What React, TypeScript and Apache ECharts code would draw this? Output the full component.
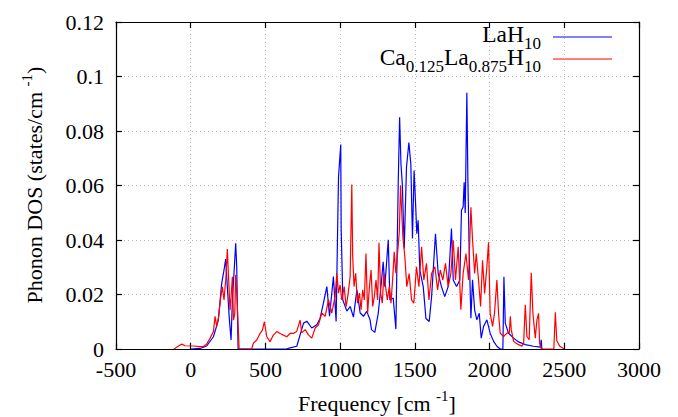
import React, { useEffect, useRef } from "react";
import * as echarts from "echarts";

// LaH10 phonon DOS
const laFreq = [0, 62, 107, 152, 185, 207, 223, 234, 245, 259, 270, 279, 292, 301, 308, 317, 640, 665, 710, 755, 777, 810, 844, 866, 888, 911, 929, 955, 973, 989, 1004, 1007, 1018, 1045, 1067, 1089, 1112, 1134, 1156, 1178, 1200, 1210, 1232, 1255, 1277, 1288, 1299, 1322, 1333, 1355, 1373, 1389, 1398, 1407, 1416, 1429, 1444, 1460, 1473, 1484, 1495, 1504, 1513, 1522, 1533, 1556, 1574, 1596, 1612, 1638, 1656, 1678, 1700, 1723, 1745, 1757, 1779, 1801, 1812, 1823, 1830, 1837, 1848, 1855, 1864, 1875, 1886, 1900, 1915, 1931, 1944, 1960, 1982, 2004, 2027, 2049, 2071, 2089, 2096, 2105, 2127, 2161, 2194, 2239, 2294, 2339, 2346, 2350];
const laDos = [0, 0.0002, 0.0011, 0.0045, 0.0106, 0.024, 0.029, 0.033, 0.0229, 0.0106, 0.0033, 0.018, 0.03, 0.0388, 0.03, 0, 0, 0.0004, 0.001, 0.0095, 0.0102, 0.0077, 0.0089, 0.0113, 0.0168, 0.0229, 0.012, 0.0266, 0.0101, 0.063, 0.075, 0.044, 0.018, 0.0139, 0.0156, 0.0117, 0.0217, 0.0132, 0.012, 0.0138, 0.0107, 0.0071, 0.0061, 0.0131, 0.025, 0.032, 0.0229, 0.0401, 0.018, 0.0187, 0.0073, 0.0618, 0.085, 0.0679, 0.0606, 0.0369, 0.0667, 0.0758, 0.0679, 0.0406, 0.0655, 0.0545, 0.0423, 0.0472, 0.029, 0.0229, 0.0112, 0.0101, 0.0192, 0.0423, 0.0277, 0.0229, 0.0192, 0.0229, 0.0442, 0.0253, 0.0229, 0.0253, 0.0509, 0.0521, 0.0612, 0.0499, 0.094, 0.0616, 0.035, 0.0113, 0.0254, 0.0143, 0.0107, 0.0131, 0.004, 0.0083, 0.0107, 0.0058, 0.0028, 0.001, 0, 0, 0.0265, 0.0095, 0.0058, 0.004, 0.0026, 0.0016, 0.001, 0.0007, 0.0034, 0];

// Ca0.125La0.875H10 phonon DOS
const caFreq = [-112, -60, -38, 18, 62, 85, 107, 129, 152, 163, 174, 185, 201, 212, 223, 236, 245, 254, 263, 270, 279, 286, 295, 301, 308, 315, 324, 408, 419, 442, 464, 480, 493, 509, 531, 553, 576, 598, 620, 643, 665, 687, 709, 732, 743, 766, 788, 810, 833, 855, 877, 900, 922, 944, 966, 978, 989, 1000, 1011, 1027, 1040, 1051, 1067, 1078, 1084, 1093, 1104, 1116, 1129, 1140, 1151, 1162, 1173, 1184, 1196, 1207, 1218, 1229, 1240, 1251, 1260, 1271, 1282, 1293, 1304, 1316, 1329, 1340, 1351, 1362, 1373, 1384, 1396, 1404, 1420, 1433, 1446, 1462, 1478, 1493, 1511, 1527, 1545, 1560, 1578, 1594, 1612, 1634, 1652, 1670, 1687, 1705, 1723, 1741, 1757, 1772, 1790, 1808, 1823, 1842, 1859, 1875, 1886, 1900, 1911, 1926, 1940, 1953, 1967, 1982, 1993, 2004, 2020, 2033, 2049, 2060, 2071, 2094, 2116, 2132, 2139, 2145, 2161, 2176, 2194, 2216, 2228, 2239, 2250, 2265, 2279, 2290, 2306, 2317, 2328, 2335, 2346, 2430, 2440, 2450, 2470, 2500];
const caDos = [0, 0.0018, 0.0012, 0.0011, 0.0009, 0.0009, 0.0018, 0.0039, 0.0064, 0.012, 0.0082, 0.0113, 0.019, 0.0228, 0.018, 0.0266, 0.0367, 0.0253, 0.0142, 0.0191, 0.0265, 0.0106, 0.013, 0.0272, 0.0204, 0.0119, 0, 0, 0.0021, 0.0033, 0.0057, 0.0069, 0.01, 0.0045, 0.0027, 0.0051, 0.0064, 0.0057, 0.0051, 0.0045, 0.0057, 0.0057, 0.0064, 0.0106, 0.0059, 0.0071, 0.0052, 0.004, 0.0077, 0.0089, 0.0132, 0.012, 0.0181, 0.0132, 0.0193, 0.0278, 0.0205, 0.0235, 0.018, 0.0229, 0.0155, 0.0193, 0.0266, 0.0604, 0.034, 0.0229, 0.0278, 0.0168, 0.0205, 0.0144, 0.0217, 0.018, 0.035, 0.0131, 0.0229, 0.029, 0.0156, 0.0193, 0.0253, 0.018, 0.039, 0.0205, 0.0168, 0.0278, 0.0229, 0.018, 0.0229, 0.0168, 0.0253, 0.0357, 0.0278, 0.035, 0.043, 0.06, 0.0409, 0.0338, 0.0229, 0.0277, 0.018, 0.0168, 0.0302, 0.0229, 0.0375, 0.0253, 0.0314, 0.018, 0.0277, 0.0302, 0.0217, 0.029, 0.0253, 0.0314, 0.0229, 0.0277, 0.0399, 0.0253, 0.0375, 0.0144, 0.0277, 0.035, 0.0253, 0.052, 0.0401, 0.0277, 0.035, 0.0253, 0.0156, 0.0326, 0.0204, 0.0302, 0.0392, 0.0131, 0.0083, 0.0131, 0.0253, 0.0131, 0.0058, 0.0046, 0.0058, 0.006, 0.012, 0.0071, 0.0028, 0.0022, 0.0016, 0.001, 0.0022, 0.0162, 0.0046, 0.0034, 0.028, 0.0131, 0.004, 0.0107, 0.0131, 0.0022, 0, 0, 0.0135, 0.003, 0.001, 0];

const xMin = -500;
const xMax = 3000;
const xStep = 500;
const yMin = 0;
const yMax = 0.12;
const yStep = 0.02;

const FONT = "Liberation Serif";

export default function App() {
  const ref = useRef<HTMLDivElement>(null);
  useEffect(() => {
    if (!ref.current) return;
    const chart = echarts.init(ref.current, null, { renderer: "svg" });
    const laData = laFreq.map((f, i) => [f, laDos[i]]);
    const caData = caFreq.map((f, i) => [f, caDos[i]]);
    const gridLine = { show: true, lineStyle: { color: "#b8b8b8", type: [1, 3] as any, width: 1 } };
    const frame = { show: true, onZero: false, lineStyle: { color: "#000", width: 1.2 } };
    const tick = { show: true, inside: true, length: 6, lineStyle: { color: "#000", width: 1.2 } };
    const tickRich = { t: { fontFamily: FONT, fontSize: 22, color: "#000" } };
    chart.setOption({
      animation: false,
      backgroundColor: "#fff",
      textStyle: { fontFamily: FONT },
      grid: { left: 116, right: 39, top: 22, bottom: 68, containLabel: false },
      xAxis: [
        {
          type: "value", min: xMin, max: xMax, interval: xStep, position: "bottom",
          axisLine: frame, axisTick: tick, splitLine: gridLine,
          axisLabel: {
            fontFamily: FONT, fontSize: 22, color: "#000", margin: 9, rich: tickRich,
            formatter: (v: number) => "{t|" + String(v) + "}",
          },
        },
        {
          type: "value", min: xMin, max: xMax, interval: xStep, position: "top",
          axisLine: frame, axisTick: tick, splitLine: { show: false },
          axisLabel: { show: false },
        },
      ],
      yAxis: [
        {
          type: "value", min: yMin, max: yMax, interval: yStep, position: "left",
          axisLine: frame, axisTick: tick, splitLine: gridLine,
          axisLabel: {
            fontFamily: FONT, fontSize: 22, color: "#000", margin: 12, rich: tickRich,
            formatter: (v: number) => "{t|" + String(+v.toFixed(2)) + "}",
          },
        },
        {
          type: "value", min: yMin, max: yMax, interval: yStep, position: "right",
          axisLine: frame, axisTick: tick, splitLine: { show: false },
          axisLabel: { show: false },
        },
      ],
      series: [
        {
          name: "LaH10", type: "line", data: laData, xAxisIndex: 0, yAxisIndex: 0,
          showSymbol: false, symbol: "none", lineStyle: { color: "#0000ff", width: 1.2 },
          itemStyle: { color: "#0000ff" },
        },
        {
          name: "Ca0.125La0.875H10", type: "line", data: caData, xAxisIndex: 0, yAxisIndex: 0,
          showSymbol: false, symbol: "none", lineStyle: { color: "#ff0000", width: 1.2 },
          itemStyle: { color: "#ff0000" },
        },
      ],
      graphic: [
        {
          type: "text", x: 541, y: 37,
          style: {
            text: "{m|LaH}{s|10}", align: "right", verticalAlign: "middle", fill: "#000",
            rich: {
              m: { fontFamily: FONT, fontSize: 23.5, lineHeight: 30, verticalAlign: "top" },
              s: { fontFamily: FONT, fontSize: 17, lineHeight: 30, verticalAlign: "bottom" },
            },
          },
        },
        { type: "line", shape: { x1: 553, y1: 37, x2: 612, y2: 37 }, style: { stroke: "#0000ff", lineWidth: 1.2 } },
        {
          type: "text", x: 541, y: 60,
          style: {
            text: "{m|Ca}{s|0.125}{m|La}{s|0.875}{m|H}{s|10}", align: "right", verticalAlign: "middle", fill: "#000",
            rich: {
              m: { fontFamily: FONT, fontSize: 23.5, lineHeight: 30, verticalAlign: "top" },
              s: { fontFamily: FONT, fontSize: 17, lineHeight: 30, verticalAlign: "bottom" },
            },
          },
        },
        { type: "line", shape: { x1: 553, y1: 59, x2: 612, y2: 59 }, style: { stroke: "#ff0000", lineWidth: 1.2 } },
        {
          type: "text", x: 377, y: 401,
          style: {
            text: "{m|Frequency [cm }{s|-1}{m|]}", align: "center", verticalAlign: "middle", fill: "#000",
            rich: {
              m: { fontFamily: FONT, fontSize: 22, lineHeight: 26, verticalAlign: "bottom" },
              s: { fontFamily: FONT, fontSize: 15, lineHeight: 26, verticalAlign: "top" },
            },
          },
        },
        {
          type: "text", x: 32, y: 185, rotation: Math.PI / 2,
          style: {
            text: "{m|Phonon DOS (states/cm }{s|-1}{m|)}", align: "center", verticalAlign: "middle", fill: "#000",
            rich: {
              m: { fontFamily: FONT, fontSize: 22, lineHeight: 26, verticalAlign: "bottom" },
              s: { fontFamily: FONT, fontSize: 15, lineHeight: 26, verticalAlign: "top" },
            },
          },
        },
      ],
    });
    return () => chart.dispose();
  }, []);
  return <div ref={ref} style={{ position: "fixed", left: 0, top: 0, width: 678, height: 417 }} />;
}
